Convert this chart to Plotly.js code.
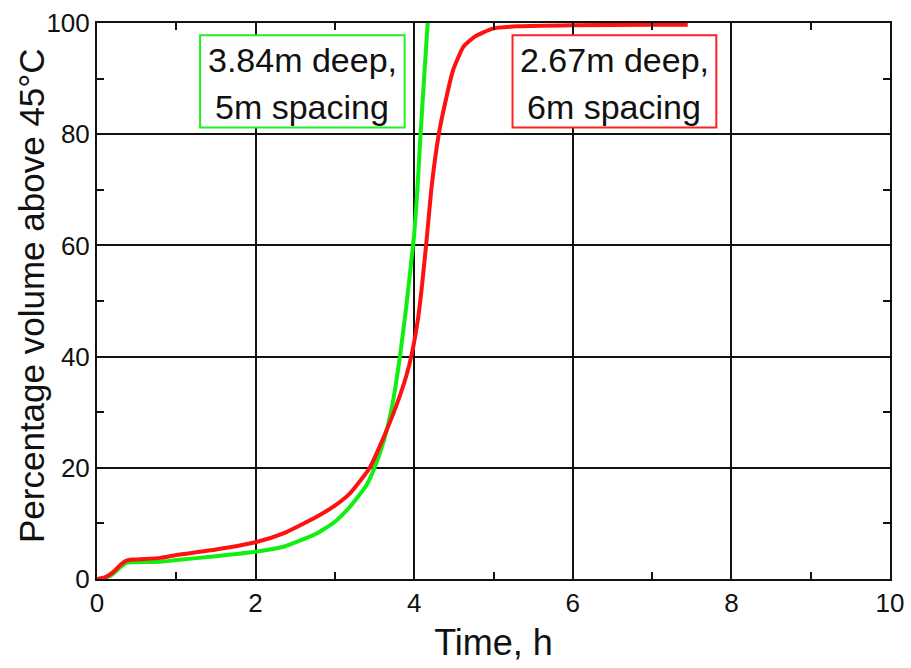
<!DOCTYPE html>
<html>
<head>
<meta charset="utf-8">
<script src="https://cdn.plot.ly/plotly-3.0.1.min.js"></script>
<style>html,body{margin:0;padding:0;background:#fff;}#chart{width:911px;height:668px;}</style>
</head>
<body>
<div id="chart"></div>
<script>
// Red series: 2.67m deep, 6m spacing
const redTime = [0, 0.1, 0.2, 0.3, 0.37, 0.45, 0.6, 0.8, 1, 1.5, 2, 2.35, 2.77, 3.0, 3.19, 3.44, 3.6, 3.77, 3.9, 3.97, 4.05, 4.1, 4.16, 4.22, 4.31, 4.39, 4.49, 4.62, 4.76, 4.99, 5.3, 6, 7, 7.45];
const redPct  = [0, 0.3, 1.2, 2.6, 3.3, 3.5, 3.6, 3.8, 4.3, 5.3, 6.6, 8.2, 11.2, 13.2, 15.4, 20, 25, 31, 36.5, 40.5, 47, 53, 61.5, 70.6, 80, 85.6, 91.5, 95.7, 97.5, 99.0, 99.4, 99.6, 99.7, 99.7];
// Green series: 3.84m deep, 5m spacing
const greenTime = [0, 0.1, 0.2, 0.3, 0.37, 0.45, 0.6, 0.8, 1, 1.5, 2, 2.35, 2.77, 3.0, 3.19, 3.4, 3.5, 3.62, 3.72, 3.82, 3.9, 3.97, 4.0, 4.04, 4.08, 4.12, 4.17, 4.19];
const greenPct  = [0, 0.2, 0.9, 2.2, 2.9, 3.0, 3.05, 3.1, 3.4, 4.1, 4.9, 5.8, 8.2, 10.3, 13.0, 16.9, 20, 25, 31, 40, 49, 58, 62, 70, 80, 89, 100, 104];

const xTicks = [0, 2, 4, 6, 8, 10];
const yTicks = [0, 20, 40, 60, 80, 100];

const greenLabel = ["3.84m deep,", "5m spacing"];
const redLabel = ["2.67m deep,", "6m spacing"];
const xTitle = "Time, h";
const yTitle = "Percentage volume above 45°C";

const FONT = "Liberation Sans, Arial, Helvetica, sans-serif";

const traces = [
  {x: greenTime, y: greenPct, mode: "lines", line: {color: "#11ee11", width: 4, shape: "spline", smoothing: 0.5}, showlegend: false},
  {x: redTime, y: redPct, mode: "lines", line: {color: "#ff1111", width: 4, shape: "spline", smoothing: 0.5}, showlegend: false}
];

function boxAnnots(lines, xc) {
  return [
    {xref: "x", yref: "y", x: xc, y: 93.3, text: lines[0], showarrow: false, xanchor: "center", yanchor: "middle", font: {family: FONT, size: 34, color: "#111"}},
    {xref: "x", yref: "y", x: xc, y: 84.9, text: lines[1], showarrow: false, xanchor: "center", yanchor: "middle", font: {family: FONT, size: 34, color: "#111"}}
  ];
}

const layout = {
  width: 911, height: 668,
  margin: {l: 97, r: 21, t: 23, b: 89},
  paper_bgcolor: "#fff", plot_bgcolor: "#fff",
  font: {family: FONT, color: "#111"},
  xaxis: {
    range: [0, 10], tickvals: xTicks, ticktext: xTicks.map(String),
    ticks: "inside", ticklen: 7, tickwidth: 2, tickcolor: "#111",
    showline: true, linewidth: 2, linecolor: "#111", mirror: "allticks",
    showgrid: true, gridcolor: "#111", gridwidth: 2, zeroline: false,
    minor: {dtick: 1, tick0: 0, ticks: "inside", ticklen: 7, tickwidth: 2, tickcolor: "#111", showgrid: false},
    tickfont: {family: FONT, size: 26, color: "#111"},
    title: {text: xTitle, font: {family: FONT, size: 36, color: "#111"}, standoff: 13}
  },
  yaxis: {
    range: [0, 100], tickvals: yTicks, ticktext: yTicks.map(String),
    ticks: "inside", ticklen: 7, tickwidth: 2, tickcolor: "#111",
    showline: true, linewidth: 2, linecolor: "#111", mirror: "allticks",
    showgrid: true, gridcolor: "#111", gridwidth: 2, zeroline: false,
    minor: {dtick: 10, tick0: 0, ticks: "inside", ticklen: 7, tickwidth: 2, tickcolor: "#111", showgrid: false},
    tickfont: {family: FONT, size: 26, color: "#111"}
  },
  shapes: [
    {type: "rect", xref: "x", yref: "y", x0: 1.30, x1: 3.88, y0: 81.2, y1: 97.8, line: {color: "#22ee22", width: 2}, fillcolor: "#fff", layer: "above"},
    {type: "rect", xref: "x", yref: "y", x0: 5.24, x1: 7.81, y0: 81.2, y1: 97.8, line: {color: "#ff2222", width: 2}, fillcolor: "#fff", layer: "above"}
  ],
  annotations: [].concat(
    boxAnnots(greenLabel, 2.59),
    boxAnnots(redLabel, 6.525),
    [{xref: "paper", yref: "paper", x: 0, y: 0.5, xshift: -66, yshift: 5, text: yTitle, textangle: -90,
      showarrow: false, xanchor: "center", yanchor: "middle", font: {family: FONT, size: 35, color: "#111"}}]
  )
};

Plotly.newPlot("chart", traces, layout, {displayModeBar: false, staticPlot: true});
</script>
</body>
</html>
